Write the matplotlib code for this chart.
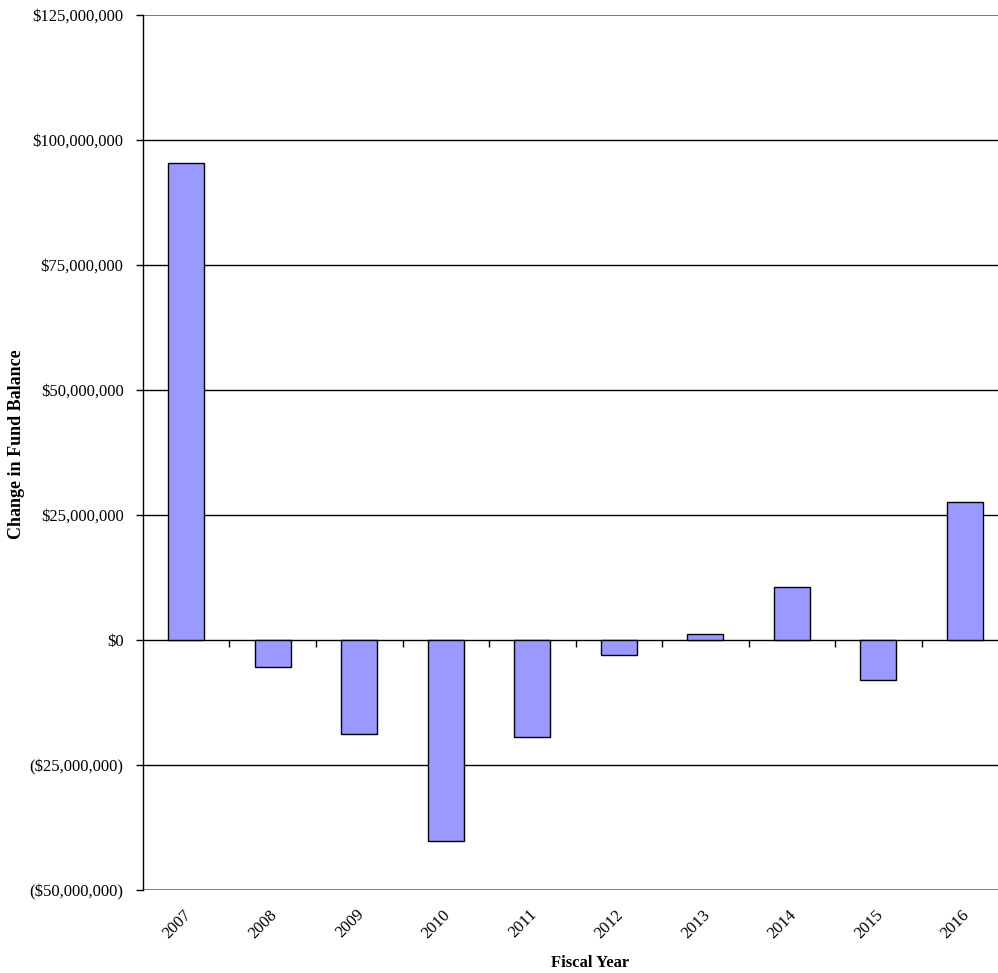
import numpy as np
import matplotlib
import matplotlib.pyplot as plt
import matplotlib.transforms as mtransforms
from matplotlib.ticker import FuncFormatter

font = {'family': 'Liberation Serif',
        'size': 12}
matplotlib.rc('font', **font)

years = ['2007', '2008', '2009', '2010', '2011', '2012', '2013', '2014', '2015', '2016']
change = [95.4e6, -5.4e6, -18.8e6, -40.2e6, -19.4e6, -3.0e6, 1.2e6, 10.6e6, -8.0e6, 27.6e6]
yticks = [-50e6, -25e6, 0, 25e6, 50e6, 75e6, 100e6, 125e6]


def money(v, pos=None):
    if v < 0:
        return '(${:,.0f})'.format(-v)
    return '${:,.0f}'.format(v)


fig = plt.figure(figsize=(9.98, 9.73), dpi=100)
# plot area runs a little past the right edge of the picture
ax = fig.add_axes([143 / 998, 83 / 973, 865 / 998, 875 / 973])

x = np.arange(len(years))
ax.bar(x, change, width=0.42, color='#9999FF', edgecolor='black', linewidth=1, zorder=3)

ax.set_xlim(-0.5, len(years) - 0.5)
ax.set_ylim(yticks[0], yticks[-1])
ax.set_yticks(yticks)
ax.yaxis.set_major_formatter(FuncFormatter(money))
ax.tick_params(axis='y', length=5, pad=9, width=1)

# gridlines
for v in yticks:
    c = '#707070' if v in (yticks[0], yticks[-1]) else 'black'
    ax.axhline(v, color=c, lw=1.3 if c != 'black' else 1, zorder=1)

for s in ('top', 'right', 'bottom'):
    ax.spines[s].set_visible(False)
ax.spines['left'].set_linewidth(1)

ax.set_xticks(x)
ax.set_xticklabels(years, rotation=45, ha='right')
ax.tick_params(axis='x', length=0, pad=12)
shift = mtransforms.ScaledTranslation(8 / 100, 0, fig.dpi_scale_trans)
for lbl in ax.get_xticklabels():
    lbl.set_transform(lbl.get_transform() + shift)

# category boundary ticks on the zero line
zero_frac = (0 - yticks[0]) / (yticks[-1] - yticks[0])
sec = ax.secondary_xaxis(zero_frac)
sec.set_xticks(x[:-1] + 0.5)
sec.set_xticklabels([])
sec.tick_params(length=5, width=1, direction='out')
sec.spines['bottom'].set_visible(False)

ax.set_ylabel('Change in Fund Balance', fontweight='bold', fontsize=13)
ax.yaxis.set_label_coords(-0.146, 0.51)
ax.yaxis.label.set_va('center')
ax.set_xlabel('Fiscal Year', fontweight='bold')
ax.xaxis.set_label_coords(0.517, -0.083)
ax.xaxis.label.set_va('center')

fig.savefig('out.png', dpi=100)
